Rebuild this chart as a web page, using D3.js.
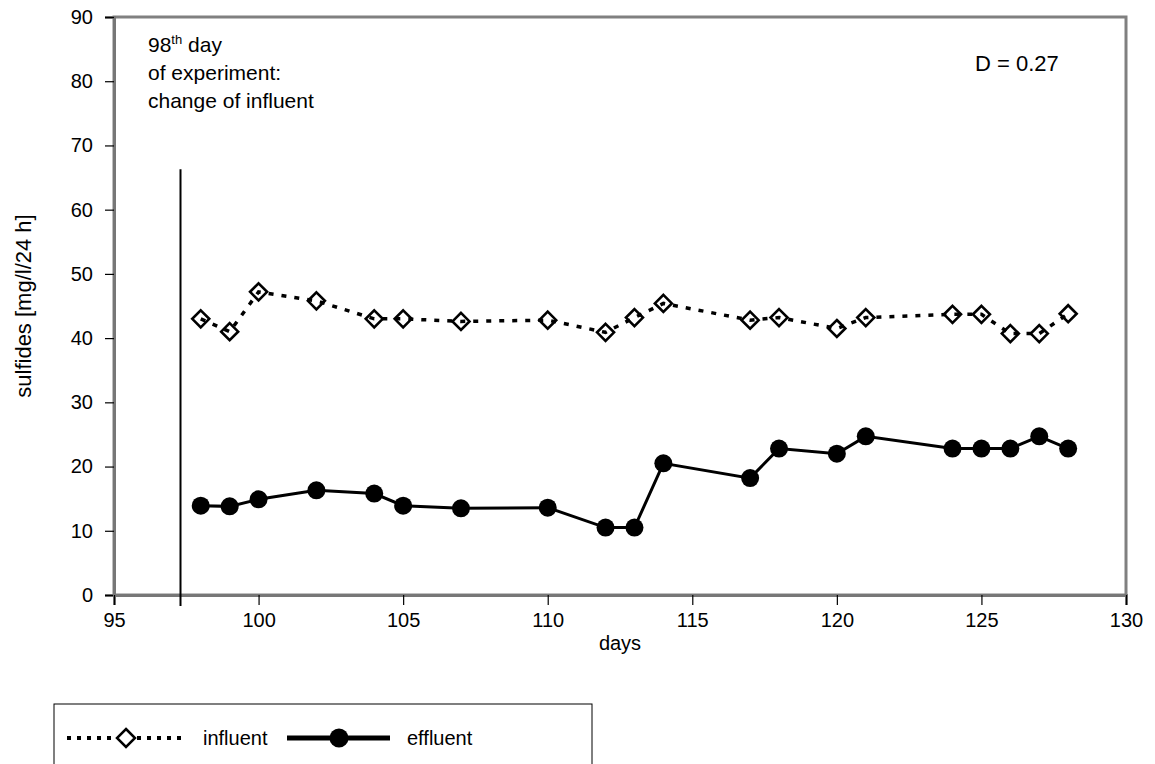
<!DOCTYPE html>
<html>
<head>
<meta charset="utf-8">
<script src="https://cdn.jsdelivr.net/npm/d3@7"></script>
<style>
  body { margin: 0; background: #fff; }
  text { font-family: "Liberation Sans", Arial, sans-serif; fill: #000; }
</style>
</head>
<body>
<div id="chart"></div>
<script>
// days of the experiment
const influentDays = [98, 99, 100, 102, 104, 105, 107, 110, 112, 113, 114, 117, 118, 120, 121, 124, 125, 126, 127, 128];
const influentVals = [43.0, 41.0, 47.2, 45.8, 43.0, 43.0, 42.6, 42.8, 40.9, 43.2, 45.4, 42.8, 43.2, 41.5, 43.2, 43.7, 43.7, 40.7, 40.7, 43.8];

const effluentDays = [98, 99, 100, 102, 104, 105, 107, 110, 112, 113, 114, 117, 118, 120, 121, 124, 125, 126, 127, 128];
const effluentVals = [13.9, 13.8, 14.9, 16.3, 15.8, 13.9, 13.5, 13.6, 10.5, 10.5, 20.5, 18.2, 22.8, 22.0, 24.7, 22.8, 22.8, 22.8, 24.7, 22.8];

const xTicks = [95, 100, 105, 110, 115, 120, 125, 130];
const yTicks = [0, 10, 20, 30, 40, 50, 60, 70, 80, 90];
const changeDay = 97.3;

const W = 1155, H = 764;
const FS = "20px";
const svg = d3.select("#chart").append("svg")
    .attr("width", W)
    .attr("height", H);

const x = d3.scaleLinear().domain([95, 130]).range([114, 1126]);
const y = d3.scaleLinear().domain([0, 90]).range([595, 17]);

// plot frame (grey, like excel)
svg.append("rect")
    .attr("x", x(95))
    .attr("y", y(90))
    .attr("width", x(130) - x(95))
    .attr("height", y(0) - y(90))
    .attr("fill", "none")
    .attr("stroke", "#808080")
    .attr("stroke-width", 3);

// axes
const yAxis = svg.append("g")
    .attr("transform", `translate(${x(95)},0)`)
    .call(d3.axisLeft(y).tickValues(yTicks).tickSize(9).tickPadding(12));
const xAxis = svg.append("g")
    .attr("transform", `translate(0,${y(0)})`)
    .call(d3.axisBottom(x).tickValues(xTicks).tickSize(10).tickPadding(8));

[yAxis, xAxis].forEach(a => {
  a.select(".domain").attr("stroke", "#777").attr("stroke-width", 3);
  a.selectAll(".tick line").attr("stroke", "#000").attr("stroke-width", 1.2);
  a.selectAll(".tick text")
    .style("font-family", '"Liberation Sans", Arial, sans-serif')
    .style("font-size", FS)
    .attr("fill", "#000");
});

svg.append("text")
    .attr("transform", `translate(31,${(y(0) + y(90)) / 2}) rotate(-90)`)
    .attr("text-anchor", "middle")
    .style("font-size", "22px")
    .text("sulfides [mg/l/24 h]");

svg.append("text")
    .attr("x", (x(95) + x(130)) / 2)
    .attr("y", 650)
    .attr("text-anchor", "middle")
    .style("font-size", FS)
    .text("days");

// vertical marker line for change of influent
svg.append("line")
    .attr("x1", x(changeDay)).attr("x2", x(changeDay))
    .attr("y1", y(66.3)).attr("y2", y(0) + 11)
    .attr("stroke", "#000")
    .attr("stroke-width", 2);

// annotations
const note = svg.append("text")
    .attr("x", 148)
    .attr("y", 52)
    .style("font-size", "21px");
note.append("tspan").text("98");
note.append("tspan").attr("dy", -8).style("font-size", "13px").text("th");
note.append("tspan").attr("dy", 8).text(" day");
svg.append("text").attr("x", 148).attr("y", 80).style("font-size", "21px").text("of experiment:");
svg.append("text").attr("x", 148).attr("y", 108).style("font-size", "21px").text("change of influent");

svg.append("text")
    .attr("x", 975)
    .attr("y", 71)
    .style("font-size", "22px")
    .text("D = 0.27");

// lines
const influent = influentDays.map((d, i) => ({day: d, v: influentVals[i]}));
const effluent = effluentDays.map((d, i) => ({day: d, v: effluentVals[i]}));

const line = d3.line().x(d => x(d.day)).y(d => y(d.v));

svg.append("path")
    .datum(effluent)
    .attr("d", line)
    .attr("fill", "none")
    .attr("stroke", "#000")
    .attr("stroke-width", 3);

svg.append("path")
    .datum(influent)
    .attr("d", line)
    .attr("fill", "none")
    .attr("stroke", "#000")
    .attr("stroke-width", 3.5)
    .attr("stroke-dasharray", "5,8");

const diamond = (cx, cy, r) => `M${cx},${cy - r}L${cx + r},${cy}L${cx},${cy + r}L${cx - r},${cy}Z`;

svg.selectAll(".infl")
  .data(influent)
  .enter()
  .append("path")
  .attr("class", "infl")
  .attr("d", d => diamond(x(d.day), y(d.v), 8.5))
  .attr("fill", "none")
  .attr("stroke", "#000")
  .attr("stroke-width", 2.6);

svg.selectAll(".effl")
  .data(effluent)
  .enter()
  .append("circle")
  .attr("class", "effl")
  .attr("cx", d => x(d.day))
  .attr("cy", d => y(d.v))
  .attr("r", 9)
  .attr("fill", "#000");

// legend
const lg = svg.append("g");
lg.append("rect")
    .attr("x", 54).attr("y", 704)
    .attr("width", 538).attr("height", 80)
    .attr("fill", "#fff")
    .attr("stroke", "#000")
    .attr("stroke-width", 1);
lg.append("line")
    .attr("x1", 67).attr("x2", 182).attr("y1", 738).attr("y2", 738)
    .attr("stroke", "#000").attr("stroke-width", 4).attr("stroke-dasharray", "4,6");
lg.append("path")
    .attr("d", diamond(126, 738, 9))
    .attr("fill", "#fff").attr("stroke", "#000").attr("stroke-width", 2.5);
lg.append("text").attr("x", 203).attr("y", 745).style("font-size", FS).text("influent");
lg.append("line")
    .attr("x1", 287).attr("x2", 390).attr("y1", 738).attr("y2", 738)
    .attr("stroke", "#000").attr("stroke-width", 5);
lg.append("circle").attr("cx", 339).attr("cy", 738).attr("r", 9.5).attr("fill", "#000");
lg.append("text").attr("x", 407).attr("y", 745).style("font-size", FS).text("effluent");
</script>
</body>
</html>
